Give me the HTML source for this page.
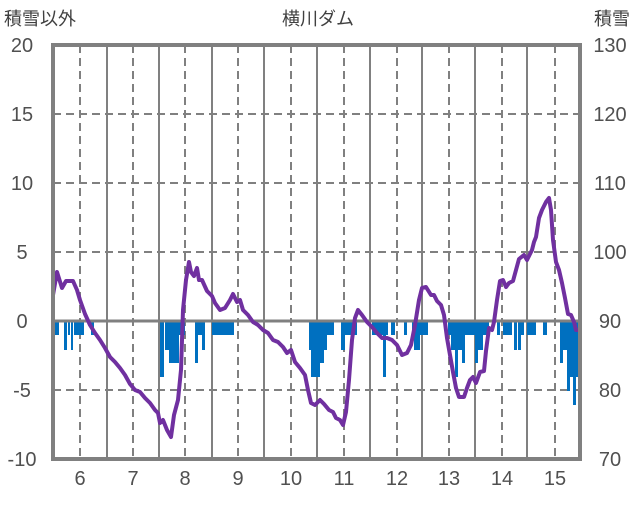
<!DOCTYPE html>
<html><head><meta charset="utf-8"><style>
body{margin:0;background:#fff}
svg text{font-family:"Liberation Sans","Noto Sans CJK JP",sans-serif;fill:#505050}
</style></head><body>
<svg width="636" height="501" viewBox="0 0 636 501" xmlns="http://www.w3.org/2000/svg">
<rect width="636" height="501" fill="#fff"/>
<g stroke="#808080" stroke-width="2" stroke-dasharray="8,5" fill="none">
<line x1="53" y1="114" x2="580" y2="114"/><line x1="53" y1="183" x2="580" y2="183"/><line x1="53" y1="252" x2="580" y2="252"/><line x1="53" y1="390" x2="580" y2="390"/>
<line x1="80" y1="45" x2="80" y2="459"/><line x1="133" y1="45" x2="133" y2="459"/><line x1="185" y1="45" x2="185" y2="459"/><line x1="238" y1="45" x2="238" y2="459"/><line x1="291" y1="45" x2="291" y2="459"/><line x1="344" y1="45" x2="344" y2="459"/><line x1="397" y1="45" x2="397" y2="459"/><line x1="449" y1="45" x2="449" y2="459"/><line x1="502" y1="45" x2="502" y2="459"/><line x1="555" y1="45" x2="555" y2="459"/>
</g>
<g stroke="#808080" stroke-width="2">
<line x1="107" y1="45" x2="107" y2="459"/><line x1="159" y1="45" x2="159" y2="459"/><line x1="212" y1="45" x2="212" y2="459"/><line x1="264" y1="45" x2="264" y2="459"/><line x1="317" y1="45" x2="317" y2="459"/><line x1="370" y1="45" x2="370" y2="459"/><line x1="422" y1="45" x2="422" y2="459"/><line x1="475" y1="45" x2="475" y2="459"/><line x1="527" y1="45" x2="527" y2="459"/>
</g>
<g fill="#0070c0">
<rect x="54" y="322" width="5" height="13"/><rect x="64" y="322" width="3" height="28"/><rect x="68" y="322" width="2" height="13"/><rect x="71" y="322" width="2" height="28"/><rect x="74" y="322" width="10" height="13"/><rect x="91" y="322" width="3" height="13"/>
<rect x="160" y="322" width="4" height="55"/><rect x="165" y="322" width="4" height="28"/><rect x="169" y="322" width="3" height="41"/><rect x="172" y="322" width="7" height="41"/><rect x="179" y="322" width="6" height="13"/><rect x="195" y="322" width="3" height="41"/><rect x="198" y="322" width="4" height="13"/><rect x="202" y="322" width="3" height="28"/><rect x="212" y="322" width="22" height="13"/>
<rect x="309" y="322" width="5" height="28"/><rect x="311" y="322" width="3" height="55"/><rect x="314" y="322" width="6" height="55"/><rect x="320" y="322" width="4" height="41"/><rect x="324" y="322" width="3" height="28"/><rect x="327" y="322" width="7" height="13"/><rect x="341" y="322" width="4" height="28"/><rect x="345" y="322" width="12" height="13"/><rect x="372" y="322" width="16" height="13"/><rect x="383" y="322" width="3" height="55"/><rect x="391" y="322" width="4" height="13"/>
<rect x="404" y="322" width="3" height="13"/><rect x="412" y="322" width="8" height="13"/><rect x="414" y="322" width="6" height="28"/><rect x="420" y="322" width="8" height="13"/>
<rect x="448" y="322" width="3" height="13"/><rect x="451" y="322" width="4" height="28"/><rect x="455" y="322" width="3" height="55"/><rect x="458" y="322" width="7" height="28"/><rect x="462" y="322" width="3" height="41"/><rect x="465" y="322" width="10" height="13"/><rect x="475" y="322" width="3" height="41"/><rect x="478" y="322" width="5" height="28"/><rect x="483" y="322" width="6" height="13"/>
<rect x="497" y="322" width="3" height="13"/><rect x="503" y="322" width="3" height="13"/><rect x="506" y="322" width="6" height="13"/><rect x="514" y="322" width="3" height="28"/><rect x="518" y="322" width="3" height="28"/><rect x="520" y="322" width="4" height="13"/><rect x="527" y="322" width="9" height="13"/><rect x="543" y="322" width="4" height="13"/>
<rect x="560" y="322" width="3" height="41"/><rect x="563" y="322" width="4" height="28"/><rect x="567" y="322" width="3" height="69"/><rect x="570" y="322" width="3" height="55"/><rect x="573" y="322" width="3" height="83"/><rect x="576" y="322" width="3" height="55"/>
</g>
<line x1="53" y1="321" x2="580" y2="321" stroke="#808080" stroke-width="3"/>
<polyline fill="none" stroke="#7030a0" stroke-width="4" stroke-linejoin="round" points="53,295 57,272 62,288 66,281 73,281 77,290 80,300 85,314 90,325 95,333 100,340 105,348 110,357 115,362 120,368 125,375 130,384 135,390 140,392 145,398 150,403 155,410 158,413 160,423 163,420 167,430 171,437 174,415 178,400 181,370 183,310 186,280 189,262 191,272 194,276 197,268 199,280 202,280 207,291 212,296 215,303 220,310 225,308 230,300 233,294 237,302 240,300 243,310 248,315 253,322 258,325 263,330 268,333 273,340 278,342 283,347 287,353 291,350 295,362 300,368 305,375 308,390 311,403 315,405 320,400 324,404 329,410 333,412 336,418 340,420 343,425 346,412 349,380 352,340 355,318 358,310 362,315 367,322 372,327 377,333 382,338 387,338 392,340 397,345 402,355 407,353 411,345 415,325 419,300 422,288 426,287 431,295 434,295 437,301 441,305 444,315 447,338 450,355 453,372 456,388 459,397 464,397 467,388 470,380 473,377 476,383 480,372 484,371 486,351 489,328 492,330 494,322 497,300 500,281 503,280 506,287 509,283 513,281 516,270 519,259 524,255 527,260 532,250 534,242 536,237 539,218 542,210 546,202 549,198 551,210 553,240 556,262 559,270 562,283 565,298 568,314 571,315 574,322 576,330 578,330"/>
<rect x="53" y="45" width="527" height="414" fill="none" stroke="#808080" stroke-width="4"/>
<g font-size="20" text-anchor="middle">
<text x="22" y="52">20</text><text x="22" y="121">15</text><text x="22" y="190">10</text><text x="22" y="259">5</text><text x="22" y="328">0</text><text x="22" y="397">-5</text><text x="22" y="466">-10</text>
<text x="610" y="52">130</text><text x="610" y="121">120</text><text x="610" y="190">110</text><text x="610" y="259">100</text><text x="610" y="328">90</text><text x="610" y="397">80</text><text x="610" y="466">70</text>
<text x="80" y="485">6</text><text x="133" y="485">7</text><text x="185" y="485">8</text><text x="238" y="485">9</text><text x="291" y="485">10</text><text x="344" y="485">11</text><text x="397" y="485">12</text><text x="449" y="485">13</text><text x="502" y="485">14</text><text x="555" y="485">15</text>
</g>
<g font-size="18">
<text x="4" y="25" style="fill:#404040">積雪以外</text>
<text x="318" y="25" text-anchor="middle" style="fill:#404040">横川ダム</text>
<text x="630" y="25" text-anchor="end" style="fill:#404040">積雪</text>
</g>
</svg>
</body></html>
